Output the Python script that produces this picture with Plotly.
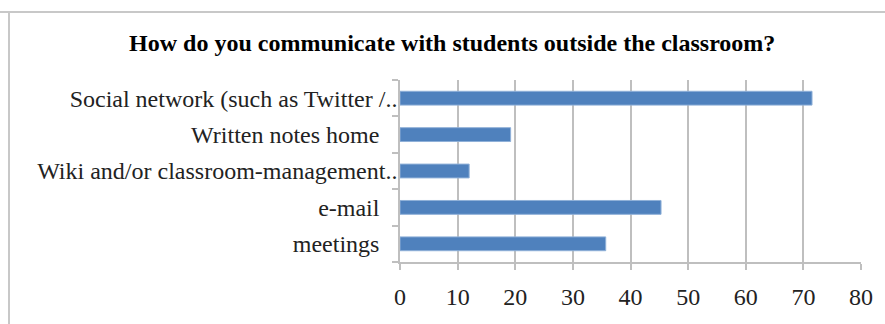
import plotly.graph_objects as go

# Survey responses: ways teachers reach students outside class
categories = [
    "meetings",
    "e-mail",
    "Wiki and/or classroom-management..",
    "Written notes home",
    "Social network (such as Twitter /..",
]
responses = [35.7, 45.3, 12.0, 19.2, 71.5]
x_ticks = [0, 10, 20, 30, 40, 50, 60, 70, 80]

BAR = "#4F81BD"
GRID = "#BFBFBF"
SERIF = "Liberation Serif, Times New Roman, serif"
NBSP = "\u00a0"

# truncated labels keep their ".." hanging past the text column
y_ticktext = [c if c.endswith("..") else c + NBSP * 3 for c in categories]

fig = go.Figure(
    go.Bar(
        x=responses,
        y=categories,
        orientation="h",
        marker=dict(color=BAR, line=dict(color="#8FB0D8", width=1)),
        width=0.38,
    )
)

fig.update_layout(
    width=885,
    height=324,
    margin=dict(l=400, r=24, t=80, b=62),
    paper_bgcolor="white",
    plot_bgcolor="white",
    showlegend=False,
    title=dict(
        text="<b>How do you communicate with students outside the classroom?</b>",
        x=0.511,
        xanchor="center",
        xref="container",
        y=0.87,
        yanchor="middle",
        yref="container",
        font=dict(family=SERIF, size=24, color="black"),
    ),
    shapes=[
        # outer chart frame (top and left edges)
        dict(type="line", xref="paper", yref="paper", x0=-400/461, x1=24/461 + 1.0,
             y0=1 + 68/182, y1=1 + 68/182, line=dict(color="#C8C8C8", width=2)),
        dict(type="line", xref="paper", yref="paper", x0=-391/461, x1=-391/461,
             y0=1 + 68/182, y1=-62/182, line=dict(color="#C8C8C8", width=2)),
    ],
)

fig.update_xaxes(
    range=[0, 80],
    tickvals=x_ticks,
    ticktext=[str(v) for v in x_ticks],
    showgrid=True,
    gridcolor=GRID,
    gridwidth=1.5,
    zeroline=False,
    showline=True,
    linecolor=GRID,
    linewidth=1.5,
    ticks="outside",
    ticklen=6,
    tickcolor=GRID,
    tickwidth=1.5,
    ticklabelstandoff=6,
    tickfont=dict(family=SERIF, size=24, color="#222"),
    fixedrange=True,
)

fig.update_yaxes(
    categoryorder="array",
    categoryarray=categories,
    tickvals=categories,
    ticktext=y_ticktext,
    showgrid=False,
    showline=True,
    linecolor=GRID,
    linewidth=1.5,
    ticks="outside",
    ticklen=6,
    tickcolor=GRID,
    tickwidth=1.5,
    tickson="boundaries",
    ticklabelstandoff=-4,
    tickfont=dict(family=SERIF, size=24, color="#222"),
    fixedrange=True,
)

fig.write_html("out.html")
